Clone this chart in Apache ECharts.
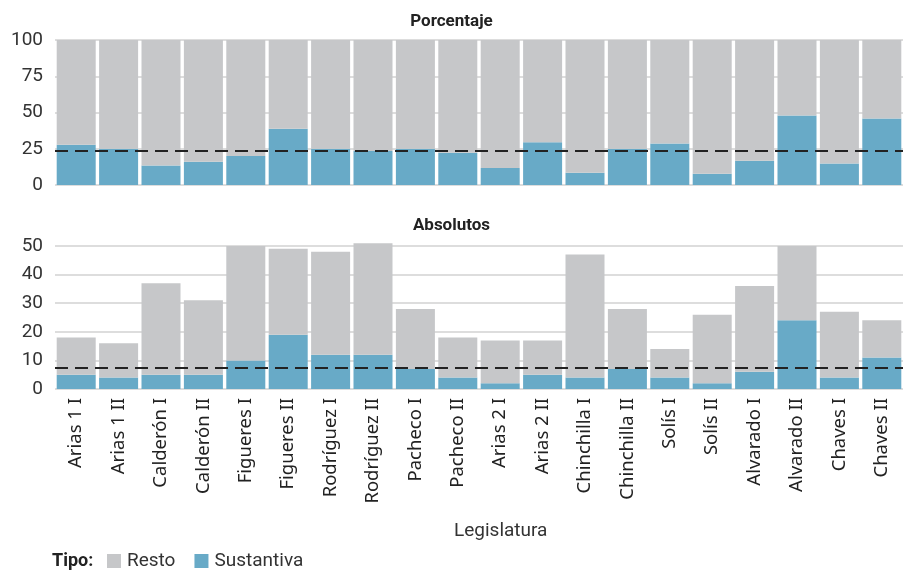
<!DOCTYPE html>
<html>
<head>
<meta charset="utf-8">
<script src="https://cdn.jsdelivr.net/npm/echarts@6/dist/echarts.min.js"></script>
<style>html,body{margin:0;padding:0;background:#fff}#c{width:903px;height:570px}</style>
</head>
<body>
<div id="c"></div>
<script>
const categories = ["Arias 1 I","Arias 1 II","Calderón I","Calderón II","Figueres I","Figueres II","Rodríguez I","Rodríguez II","Pacheco I","Pacheco II","Arias 2 I","Arias 2 II","Chinchilla I","Chinchilla II","Solís I","Solís II","Alvarado I","Alvarado II","Chaves I","Chaves II"];
const sustantivaAbs = [5,4,5,5,10,19,12,12,7,4,2,5,4,7,4,2,6,24,4,11];
const restoAbs = [13,12,32,26,40,30,36,39,21,14,15,12,43,21,10,24,30,26,23,13];
const sustantivaPct = [27.8,25.0,13.5,16.1,20.0,38.8,25.0,23.5,25.0,22.2,11.8,29.4,8.5,25.0,28.6,7.7,16.7,48.0,14.8,45.8];
const restoPct = [72.2,75.0,86.5,83.9,80.0,61.2,75.0,76.5,75.0,77.8,88.2,70.6,91.5,75.0,71.4,92.3,83.3,52.0,85.2,54.2];
const refPct = 23.5;
const refAbs = 7.6;
const pctTicks = [0,25,50,75,100];
const absTicks = [0,10,20,30,40,50];

const GRAY = '#c6c7c9', BLUE = '#68aac7';
const tickFont = {fontFamily:'Roboto', fontSize:19, color:'#333'};
const markLineCfg = v => ({
  silent:true, symbol:'none', label:{show:false},
  lineStyle:{type:[13,7], color:'#222', width:2.2},
  data:[{yAxis:v}]
});
const chart = echarts.init(document.getElementById('c'));
chart.setOption({
  animation:false,
  backgroundColor:'#fff',
  title:[
    {text:'Porcentaje', left:'center', top:8, textStyle:{fontFamily:'Roboto', fontSize:17, fontWeight:'bold', color:'#222'}},
    {text:'Absolutos', left:'center', top:212, textStyle:{fontFamily:'Roboto', fontSize:17, fontWeight:'bold', color:'#222'}}
  ],
  grid:[
    {left:55, width:851, top:40, height:145},
    {left:55, width:851, top:246, height:143}
  ],
  xAxis:[
    {type:'category', gridIndex:0, data:categories, axisLine:{show:false}, axisTick:{show:false}, axisLabel:{show:false}},
    {type:'category', gridIndex:1, data:categories, axisLine:{show:false}, axisTick:{show:false},
     axisLabel:{rotate:90, margin:9, fontFamily:'Noto Sans', fontSize:18.5, color:'#222', interval:0}}
  ],
  yAxis:[
    {type:'value', gridIndex:0, min:pctTicks[0], max:pctTicks[pctTicks.length-1], interval:pctTicks[1]-pctTicks[0],
     axisLabel:Object.assign({margin:12}, tickFont), splitLine:{lineStyle:{color:'#ddd', width:2}}},
    {type:'value', gridIndex:1, min:absTicks[0], max:absTicks[absTicks.length-1], interval:absTicks[1]-absTicks[0],
     axisLabel:Object.assign({margin:12}, tickFont), splitLine:{lineStyle:{color:'#ddd', width:2}}}
  ],
  legend:{
    left:107, top:550, padding:0, itemWidth:14, itemHeight:14, itemGap:19,
    data:['Resto','Sustantiva'],
    textStyle:{fontFamily:'Roboto', fontSize:19, lineHeight:22, color:'#333', padding:[0,0,0,1]},
    icon:'rect'
  },
  graphic:[
    {type:'text', x:52, y:561, style:{text:'Tipo:', font:'bold 18px Roboto', fill:'#222', verticalAlign:'middle', textVerticalAlign:'middle'}},
    {type:'text', left:454, top:522, style:{text:'Legislatura', font:'19px Roboto', fill:'#333'}}
  ],
  series:[
    {name:'Sustantiva', type:'bar', xAxisIndex:0, yAxisIndex:0, stack:'p', data:sustantivaPct, barCategoryGap:'8%', itemStyle:{color:BLUE}, markLine:markLineCfg(refPct), z:2},
    {name:'Resto', type:'bar', xAxisIndex:0, yAxisIndex:0, stack:'p', data:restoPct, barCategoryGap:'8%', itemStyle:{color:GRAY}},
    {name:'Sustantiva', type:'bar', xAxisIndex:1, yAxisIndex:1, stack:'a', data:sustantivaAbs, barCategoryGap:'8%', itemStyle:{color:BLUE}, markLine:markLineCfg(refAbs), clip:false, z:2},
    {name:'Resto', type:'bar', xAxisIndex:1, yAxisIndex:1, stack:'a', data:restoAbs, barCategoryGap:'8%', itemStyle:{color:GRAY}, clip:false}
  ]
});
</script>
</body>
</html>
